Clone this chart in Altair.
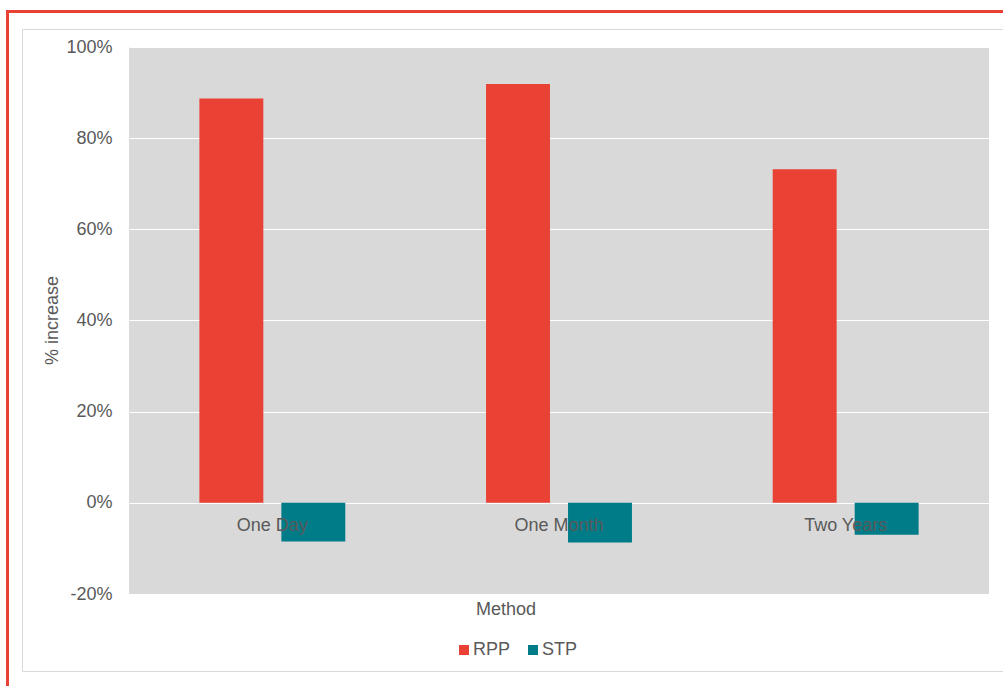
import altair as alt
import pandas as pd

categories = ["One Day", "One Month", "Two Years"]
series = ["RPP", "STP"]
rpp_values = [0.887, 0.919, 0.732]
stp_values = [-0.085, -0.087, -0.070]
y_ticks = [-0.2, 0.0, 0.2, 0.4, 0.6, 0.8, 1.0]

RED = "#E94234"
TEAL = "#007C89"
GREY = "#595959"
FONT = "Liberation Sans"

rows = []
for c, r, s in zip(categories, rpp_values, stp_values):
    rows.append({"Method": c, "Series": "RPP", "value": r})
    rows.append({"Method": c, "Series": "STP", "value": s})
df = pd.DataFrame(rows)
labels_df = pd.DataFrame({"Method": categories})

x_scale = alt.Scale(domain=categories, paddingInner=0.491, paddingOuter=0.2455)
y_scale = alt.Scale(domain=[-0.2, 1.0], nice=False, zero=False)

bars = alt.Chart(df).mark_bar().encode(
    x=alt.X("Method:N", scale=x_scale, sort=categories, axis=None),
    xOffset=alt.XOffset("Series:N", sort=series,
                        scale=alt.Scale(domain=series, paddingInner=0.22, paddingOuter=0)),
    y=alt.Y("value:Q", scale=y_scale,
            axis=alt.Axis(values=y_ticks, labelExpr="round(datum.value*100) + '%'",
                          ticks=False, domain=False, grid=True, gridColor="white",
                          gridWidth=1, labelPadding=17, labelFont=FONT,
                          labelFontSize=18, labelColor=GREY,
                          title="% increase", titleX=-72, titleY=273, titleAngle=270,
                          titleBaseline="alphabetic", titleAlign="center",
                          titleFont=FONT, titleFontSize=18, titleColor=GREY,
                          titleFontWeight="normal")),
    color=alt.Color("Series:N", sort=series,
                    scale=alt.Scale(domain=series, range=[RED, TEAL]),
                    legend=alt.Legend(title=None, orient="none", legendX=326, legendY=594,
                                      direction="horizontal", symbolType="square",
                                      symbolSize=100, symbolStrokeWidth=0,
                                      labelFont=FONT, labelFontSize=18, labelColor=GREY,
                                      labelOffset=0, columnPadding=13)),
)

cat_labels = alt.Chart(labels_df).mark_text(
    dy=28, baseline="alphabetic", align="center", fontSize=18, font=FONT, color=GREY
).encode(
    x=alt.X("Method:N", scale=x_scale, sort=categories, axis=None),
    y=alt.datum(0),
    text="Method:N",
)

frame_data = alt.Data(values=[{"k": 1}])
x_title = alt.Chart(frame_data).mark_text(
    baseline="alphabetic", align="center", fontSize=18, font=FONT, color=GREY
).encode(x=alt.value(377), y=alt.value(568), text=alt.value("Method"))

red_frame = alt.Chart(frame_data).mark_rect(fillOpacity=0, stroke=RED, strokeWidth=3).encode(
    x=alt.value(-121.5), x2=alt.value(900), y=alt.value(-35.5), y2=alt.value(670)
)
grey_frame = alt.Chart(frame_data).mark_rect(fillOpacity=0, stroke="#D9D9D9", strokeWidth=1).encode(
    x=alt.value(-106.5), x2=alt.value(890), y=alt.value(-17.5), y2=alt.value(624.5)
)

chart = alt.layer(red_frame, grey_frame, bars, cat_labels, x_title).properties(
    width=860, height=547,
    padding={"left": 129, "top": 47, "right": 14, "bottom": 92},
    autosize=alt.AutoSizeParams(type="none"),
    background="white",
).configure_view(fill="#D9D9D9", strokeWidth=0)

chart.save("out.html", embed_options={"renderer": "svg", "actions": False})
